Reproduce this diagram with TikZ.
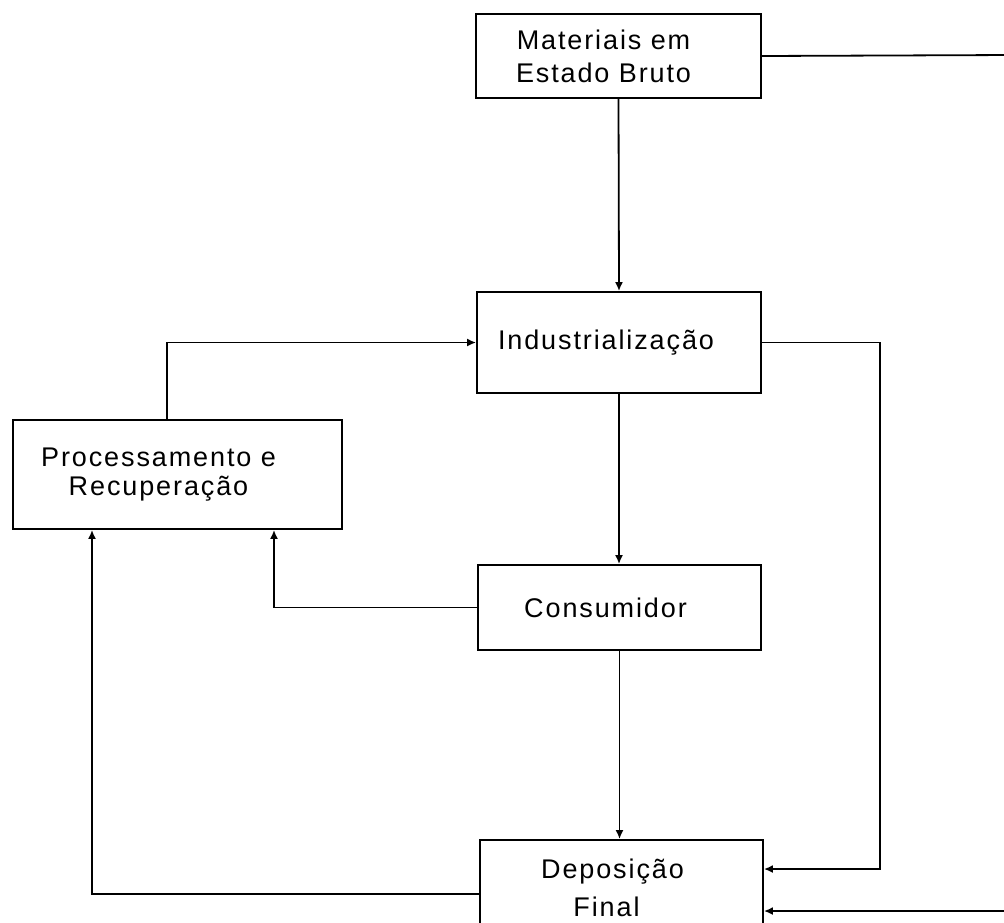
\documentclass[tikz,border=0pt]{standalone}
\usepackage{fontspec}
\newfontfamily\diag[LetterSpace=7]{Liberation Sans}
\usetikzlibrary{arrows.meta}
\begin{document}
\begin{tikzpicture}[x=1pt,y=-1pt,
  boxnode/.style={draw=black,line width=1.8pt,align=center,inner sep=0pt,
    font=\diag\fontsize{27}{33}\selectfont},
  conn/.style={draw=black,line width=1.8pt},
  arr/.style={conn,-{Latex[length=9pt,width=8pt]}}]
\useasboundingbox (0,0) rectangle (1004,922);
\clip (0,0) rectangle (1004,922);
\fill[white] (0,0) rectangle (1004,922);

\node[boxnode,minimum width=285pt,minimum height=84pt] (mat) at (618.5,56)
  {Materiais em\hspace*{30pt}\\Estado Bruto\hspace*{30pt}};
\node[boxnode,minimum width=284pt,minimum height=101pt] (ind) at (619,342.5)
  {\raisebox{-3pt}{Industrialização}\hspace*{26pt}};
\node[boxnode,minimum width=329pt,minimum height=109pt,
  font=\diag\fontsize{27}{29}\selectfont] (proc) at (177.5,474.5)
  {Processamento e\hspace*{38pt}\\Recuperação\hspace*{38pt}};
\node[boxnode,minimum width=283pt,minimum height=85pt] (cons) at (619.5,607.5)
  {\raisebox{-5pt}{Consumidor}\hspace*{28pt}};
\node[boxnode,minimum width=283pt,minimum height=98pt,
  font=\diag\fontsize{27}{38}\selectfont] (dep) at (621.5,889)
  {\raisebox{2pt}{Deposição}\hspace*{18pt}\\\raisebox{2pt}{Final}\hspace*{30pt}};

\coordinate (offA) at (1012,55);
\coordinate (offB) at (1012,911);
\coordinate (rturn) at (880,869);

% Materiais -> off right edge
\draw[conn] (mat.east) -- (offA);
% Materiais -> Industrializacao
\draw[arr] (mat.south) -- (ind.north);
% Industrializacao -> Consumidor
\draw[arr] (ind.south) -- (ind.south |- cons.north);
% Industrializacao -> Deposicao (right loop)
\draw[arr] (ind.east) -| (rturn) -- (rturn -| dep.east);
% off right edge -> Deposicao
\draw[arr] (offB) -- (offB -| dep.east);
% Consumidor -> Deposicao
\draw[arr] (cons.south) -- (cons.south |- dep.north);
% Consumidor -> Processamento
\draw[arr] (cons.west) -| ([xshift=96.5pt]proc.south);
% Deposicao -> Processamento
\draw[arr] ([yshift=-5pt]dep.west) -| ([xshift=-85.5pt]proc.south);
% Processamento -> Industrializacao
\draw[arr] ([xshift=-10.5pt]proc.north) |- (ind.west);
\end{tikzpicture}
\end{document}
